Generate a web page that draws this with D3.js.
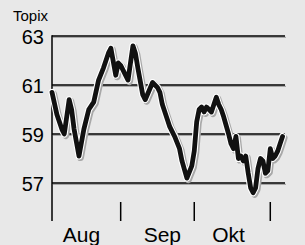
<!DOCTYPE html>
<html><head><meta charset="utf-8">
<script src="https://cdn.jsdelivr.net/npm/d3@7"></script>
<style>
html,body{margin:0;padding:0;background:#e8e8e8;}
svg{display:block;font-family:"Liberation Sans",Arial,sans-serif;}
</style></head>
<body>
<svg id="c" width="305" height="245"></svg>
<script>
// Data (day offsets from Aug 4, value)
const startDate = "2003-08-04";
const dayOffsets = [0,2,4,5,7,8,9,11,13,15,17,19,21,23,24,26,27,28,31,33,34,35,37,38,41,43,44,45,47,48,50,52,53,55,57,58,59,60,61,62,63,64,65,66,67,68,69,70,72,73,74,75,76,77,78,79,80,81,82,83,84,85,86,87,88,89,90,91,92,93,94];
const values = [60.7,59.8,59.2,59.0,60.4,60.0,59.2,58.1,59.2,60.0,60.3,61.2,61.7,62.3,62.5,61.4,61.9,61.8,61.2,62.6,62.3,61.7,60.6,60.4,61.1,60.9,60.7,60.2,59.6,59.3,58.9,58.4,57.9,57.2,57.7,58.3,59.5,60.0,60.1,59.9,60.1,60.0,59.9,60.2,60.5,60.2,60.0,59.7,59.0,58.6,58.4,58.9,58.0,58.1,57.9,58.1,57.4,56.8,56.6,56.8,57.6,58.0,57.9,57.4,57.5,58.4,58.0,58.1,58.3,58.6,58.9];
const yTicks = [57,59,61,63];
const monthTicks = ["2003-09-01","2003-10-01","2003-11-01"];
const monthLabels = ["Aug","Sep","Okt"];
const monthLabelDates = ["2003-08-16","2003-09-18","2003-10-15"];
const unitLabel = "Topix";

const parse = d3.utcParse("%Y-%m-%d");
const t0 = parse(startDate);
const data = dayOffsets.map((d,i)=>({date:d3.utcDay.offset(t0,d), v:values[i]}));

const svg = d3.select("#c");
const x = d3.scaleUtc().domain([t0, parse("2003-11-07")]).range([52,285]);
const y = d3.scaleLinear().domain([57,63]).range([183,36]);

// gridlines with shadow
const grid = svg.append("g");
yTicks.forEach(t=>{
  grid.append("line").attr("x1",53).attr("x2",286).attr("y1",y(t)+1.3).attr("y2",y(t)+1.3)
    .attr("stroke","#a8a8a8").attr("stroke-width",1.2);
  grid.append("line").attr("x1",52).attr("x2",285).attr("y1",y(t)).attr("y2",y(t))
    .attr("stroke","#000").attr("stroke-width",1.4);
});
// y axis line
svg.append("line").attr("x1",52).attr("x2",52).attr("y1",y(63)-0.7).attr("y2",221)
  .attr("stroke","#000").attr("stroke-width",1.5);
// month ticks
monthTicks.forEach(m=>{
  const xx = x(parse(m));
  svg.append("line").attr("x1",xx).attr("x2",xx).attr("y1",202).attr("y2",221)
    .attr("stroke","#000").attr("stroke-width",1.5);
});
// y labels
yTicks.forEach(t=>{
  svg.append("text").attr("x",44).attr("y",y(t)+7.5).attr("text-anchor","end")
    .attr("font-size",20).attr("fill","#000").text(t);
});
svg.append("text").attr("x",13).attr("y",20.5).attr("font-size",15).attr("fill","#000").text(unitLabel);
// month labels
monthLabels.forEach((l,i)=>{
  svg.append("text").attr("x",x(parse(monthLabelDates[i]))).attr("y",241.5)
    .attr("text-anchor","middle").attr("font-size",21).attr("fill","#000").text(l);
});

const line = d3.line().x(d=>x(d.date)).y(d=>y(d.v));
svg.append("path").datum(data).attr("d",line).attr("fill","none")
  .attr("stroke","#a8a8a8").attr("stroke-width",7).attr("stroke-linejoin","round").attr("stroke-linecap","round")
  .attr("transform","translate(1.5,1.5)");
svg.append("path").datum(data).attr("d",line).attr("fill","none")
  .attr("stroke","#fff").attr("stroke-width",7).attr("stroke-linejoin","round").attr("stroke-linecap","round");
svg.append("path").datum(data).attr("d",line).attr("fill","none")
  .attr("stroke","#111").attr("stroke-width",4.8).attr("stroke-linejoin","round").attr("stroke-linecap","round");
</script>
</body></html>
